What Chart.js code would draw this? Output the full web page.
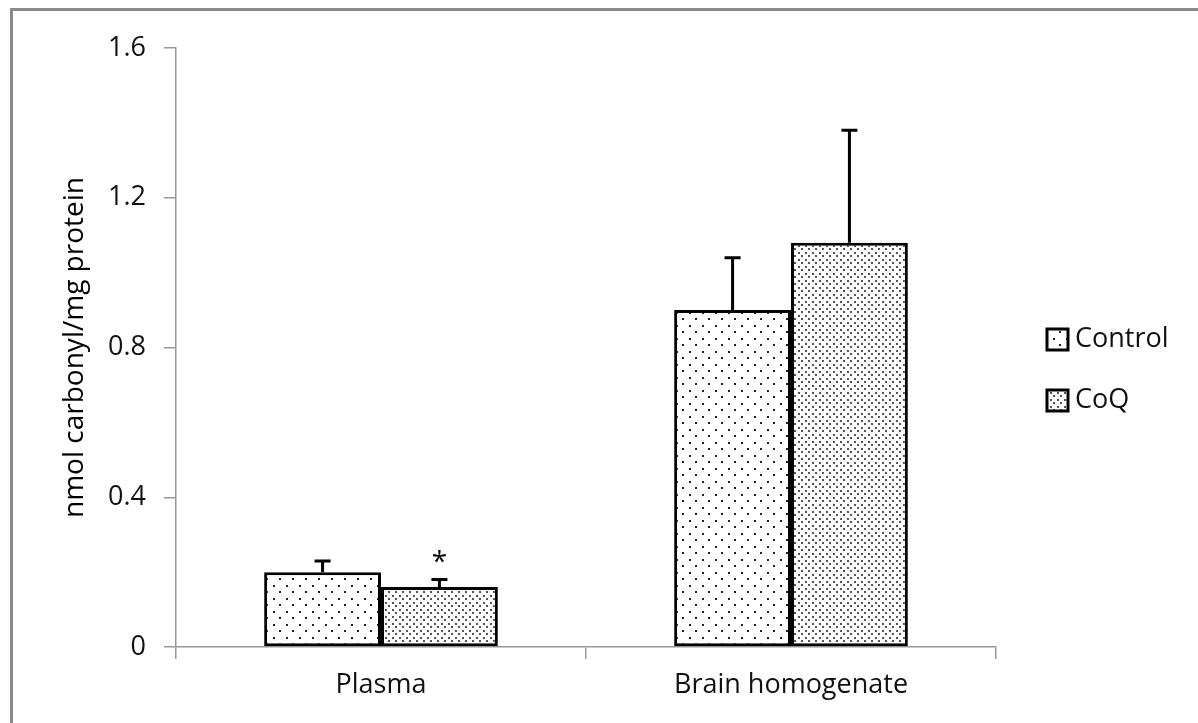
<!DOCTYPE html>
<html>
<head>
<meta charset="utf-8">
<script src="https://cdn.jsdelivr.net/npm/chart.js@4.4.1/dist/chart.umd.min.js"></script>
<style>
  html, body { margin: 0; padding: 0; background: #fff; }
  #wrap { position: relative; width: 1198px; height: 723px; }
</style>
</head>
<body>
<div id="wrap"><canvas id="chart" width="1198" height="723"></canvas></div>
<script>
// ── DATA ─────────────────────────────────────────
const CATEGORIES   = ["Plasma", "Brain homogenate"];
const SERIES       = ["Control", "CoQ"];
const CONTROL_VAL  = [0.20, 0.90];
const COQ_VAL      = [0.16, 1.08];
const CONTROL_ERR  = [0.03, 0.14];
const COQ_ERR      = [0.02, 0.30];
const CONTROL_SIG  = ["", ""];
const COQ_SIG      = ["*", ""];
const Y_TICKS      = [0, 0.4, 0.8, 1.2, 1.6];
const Y_TITLE      = "nmol carbonyl/mg protein";

const FONT = "'Open Sans', sans-serif";

// ── DOT PATTERNS ─────────────────────────────────
// staggered dots: rows every `step`, every other row shifted by half the in-row period
function dotPattern(step, period, dot, color) {
  const size = period;
  const c = document.createElement("canvas");
  c.width = size; c.height = size;
  const g = c.getContext("2d");
  g.fillStyle = "#fff";
  g.fillRect(0, 0, size, size);
  g.fillStyle = color;
  g.fillRect(0, 0, dot, dot);
  g.fillRect(step, step, dot, dot);
  return g.createPattern(c, "repeat");
}

const ctx = document.getElementById("chart").getContext("2d");
const controlFill = dotPattern(6, 13, 2, "#222");
const coqFill     = dotPattern(3, 7, 2, "#555");
const FILLS = [controlFill, coqFill];
const ERRS  = [CONTROL_ERR, COQ_ERR];
const SIGS  = [CONTROL_SIG, COQ_SIG];

// ── PLUGINS ──────────────────────────────────────
const frame = {
  id: "frame",
  beforeDraw(chart) {
    const c = chart.ctx;
    c.save();
    c.fillStyle = "#8a8a8a";
    c.fillRect(10, 8, chart.width - 10, 3);
    c.fillRect(10, 8, 3, chart.height - 8);
    c.restore();
  }
};

const errorBars = {
  id: "errorBars",
  afterDatasetsDraw(chart) {
    const c = chart.ctx;
    const y = chart.scales.y;
    c.save();
    c.strokeStyle = "#000";
    c.lineWidth = 3;
    chart.data.datasets.forEach((ds, i) => {
      const meta = chart.getDatasetMeta(i);
      meta.data.forEach((bar, j) => {
        const top = y.getPixelForValue(ds.data[j] + ERRS[i][j]);
        c.beginPath();
        c.moveTo(bar.x, bar.y);
        c.lineTo(bar.x, top);
        c.moveTo(bar.x - 8, top);
        c.lineTo(bar.x + 8, top);
        c.stroke();
        if (SIGS[i][j]) {
          c.fillStyle = "#000";
          c.font = "28px " + FONT;
          c.textAlign = "center";
          c.textBaseline = "alphabetic";
          c.fillText(SIGS[i][j], bar.x, top - 9);
        }
      });
    });
    c.restore();
  }
};

const sideLegend = {
  id: "sideLegend",
  afterDraw(chart) {
    const c = chart.ctx;
    c.save();
    c.font = "27px " + FONT;
    c.textBaseline = "middle";
    c.textAlign = "left";
    chart.data.datasets.forEach((ds, i) => {
      const cy = 339 + i * 61;
      c.fillStyle = FILLS[i];
      c.fillRect(1047, cy - 10, 21, 21);
      c.strokeStyle = "#000";
      c.lineWidth = 3;
      c.strokeRect(1047, cy - 10, 21, 21);
      c.fillStyle = "#111";
      c.fillText(ds.label, 1075, cy);
    });
    c.restore();
  }
};

// ── CHART ────────────────────────────────────────
new Chart(ctx, {
  type: "bar",
  data: {
    labels: CATEGORIES,
    datasets: [
      { label: SERIES[0], data: CONTROL_VAL, backgroundColor: controlFill },
      { label: SERIES[1], data: COQ_VAL, backgroundColor: coqFill },
    ].map(d => Object.assign(d, {
      borderColor: "#000",
      borderWidth: 3,
      borderSkipped: false,
      categoryPercentage: 0.57,
      barPercentage: 1.0,
    })),
  },
  options: {
    responsive: false,
    animation: false,
    layout: { padding: { top: 48, right: 202, bottom: 0, left: 0 } },
    plugins: {
      legend: { display: false },
      tooltip: { enabled: false },
    },
    scales: {
      x: {
        afterFit: s => { s.height = 76; },
        grid: {
          offset: true,
          drawOnChartArea: false,
          drawTicks: true,
          tickLength: 12,
          color: "#999",
          lineWidth: 1.5,
        },
        border: { color: "#999", width: 1.5 },
        ticks: { color: "#111", padding: 10, font: { family: FONT, size: 27 } },
      },
      y: {
        min: 0,
        max: 1.6,
        afterFit: s => { s.width = 176; },
        afterBuildTicks: s => { s.ticks = Y_TICKS.map(v => ({ value: v })); },
        grid: {
          drawOnChartArea: false,
          drawTicks: true,
          tickLength: 12,
          color: "#999",
          lineWidth: 1.5,
        },
        border: { color: "#999", width: 1.5 },
        ticks: {
          color: "#111",
          padding: 18,
          font: { family: FONT, size: 27 },
          callback: v => String(v),
        },
        title: {
          display: true,
          text: Y_TITLE,
          color: "#000",
          font: { family: FONT, size: 28 },
          padding: { top: 58, bottom: 0 },
        },
      },
    },
  },
  plugins: [frame, errorBars, sideLegend],
});
</script>
</body>
</html>
